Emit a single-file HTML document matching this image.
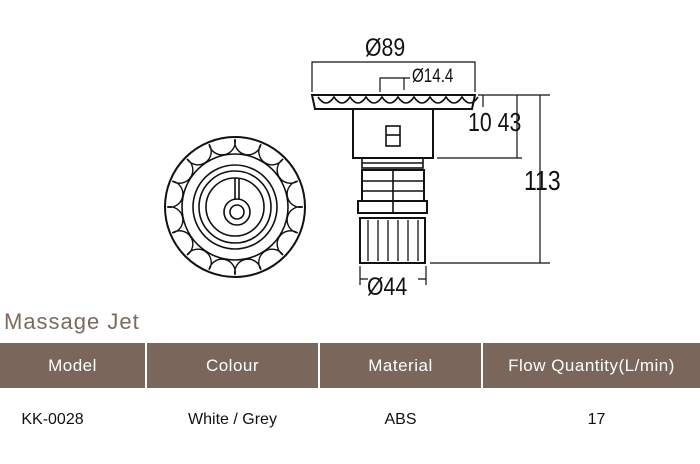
<!DOCTYPE html>
<html><head><style>
body{margin:0;background:#fff;width:700px;height:464px;overflow:hidden;font-family:"Liberation Sans",sans-serif;position:relative}
.t{position:absolute;left:4px;top:309px;font-size:22px;color:#7a6a60;letter-spacing:1px}
.hd{position:absolute;top:343px;height:45px;background:#7a665b;color:#fff;font-size:17px;line-height:45px;text-align:center;letter-spacing:0.5px}
.r{position:absolute;top:411px;font-size:16px;color:#111;text-align:center}
</style></head><body>
<svg width="700" height="300" style="position:absolute;left:0;top:0" fill="none" stroke="#111" stroke-width="1.6">
<circle cx="235" cy="207" r="70" stroke-width="2"/>
<circle cx="235" cy="207" r="53"/>
<g id="sc" stroke-width="1.4"></g>
<circle cx="235" cy="207" r="42"/>
<circle cx="235" cy="207" r="36"/>
<circle cx="235" cy="207" r="29"/>
<circle cx="237" cy="212" r="13"/>
<circle cx="237" cy="212" r="7"/>
<line x1="235" y1="178" x2="235" y2="200"/>
<line x1="239" y1="178" x2="239" y2="200"/>
<path d="M312 95 H475 L472 109 H315 Z" stroke-width="2"/>
<path d="M318 97 q8 12 16 0 q8 12 16 0 q8 12 16 0 q8 12 16 0 q8 12 16 0 q8 12 16 0 q8 12 16 0 q8 12 16 0 q8 12 16 0 q8 12 16 0"/>
<rect x="353" y="109" width="80" height="49" stroke-width="2"/>
<rect x="386" y="126" width="14" height="20"/>
<line x1="386" y1="135" x2="400" y2="135"/>
<rect x="362" y="158" width="61" height="10"/>
<line x1="362" y1="163" x2="423" y2="163"/>
<rect x="362" y="170" width="62" height="31" stroke-width="2"/>
<line x1="362" y1="181" x2="424" y2="181"/>
<line x1="362" y1="191" x2="424" y2="191"/>
<line x1="393" y1="170" x2="393" y2="212"/>
<rect x="358" y="201" width="69" height="12" stroke-width="2"/>
<rect x="360" y="218" width="65" height="45" stroke-width="2"/>
<g stroke-width="1.3">
<line x1="368" y1="220" x2="368" y2="261"/><line x1="378" y1="220" x2="378" y2="261"/>
<line x1="388" y1="220" x2="388" y2="261"/><line x1="398" y1="220" x2="398" y2="261"/>
<line x1="408" y1="220" x2="408" y2="261"/><line x1="418" y1="220" x2="418" y2="261"/>
</g>
<g stroke-width="1.2">
<path d="M312 92 V62 H475 V92"/>
<path d="M380 92 V78 H404 V90 M404 78 H410"/>
<line x1="478" y1="95" x2="550" y2="95"/>
<line x1="437" y1="158" x2="522" y2="158"/>
<line x1="430" y1="263" x2="550" y2="263"/>
<line x1="483" y1="95" x2="483" y2="107"/>
<line x1="517" y1="95" x2="517" y2="158"/>
<line x1="540" y1="95" x2="540" y2="263"/>
<path d="M360 266 V285 M426 266 V285 M360 279 H368 M426 279 H418"/>
</g>
<g fill="#111" stroke="none" font-family="Liberation Sans, sans-serif">
<text x="365" y="56" font-size="25" transform="translate(365 0) scale(0.85 1) translate(-365 0)">Ø89</text>
<text x="412" y="82" font-size="19" transform="translate(412 0) scale(0.8 1) translate(-412 0)">Ø14.4</text>
<text x="468" y="131" font-size="26" transform="translate(468 0) scale(0.82 1) translate(-468 0)">10 43</text>
<text x="524" y="190" font-size="28" transform="translate(524 0) scale(0.82 1) translate(-524 0)">113</text>
<text x="367" y="295" font-size="25" transform="translate(367 0) scale(0.85 1) translate(-367 0)">Ø44</text>
</g>
</svg>
<script>
var g=document.getElementById('sc'),s='',n=16,cx=235,cy=207;
for(var i=0;i<n;i++){var a1=2*Math.PI*i/n,a2=2*Math.PI*(i+1)/n,r=68;
var x1=cx+r*Math.cos(a1),y1=cy+r*Math.sin(a1),x2=cx+r*Math.cos(a2),y2=cy+r*Math.sin(a2);
s+='M'+x1.toFixed(1)+' '+y1.toFixed(1)+' A13 13 0 0 0 '+x2.toFixed(1)+' '+y2.toFixed(1)+' ';}
var p=document.createElementNS('http://www.w3.org/2000/svg','path');p.setAttribute('d',s);g.appendChild(p);
</script>
<div class="t">Massage Jet</div>
<div class="hd" style="left:0;width:145px">Model</div>
<div class="hd" style="left:147px;width:171px">Colour</div>
<div class="hd" style="left:320px;width:161px">Material</div>
<div class="hd" style="left:483px;width:217px">Flow Quantity(L/min)</div>
<div class="r" style="left:0;width:105px">KK-0028</div>
<div class="r" style="left:147px;width:171px">White / Grey</div>
<div class="r" style="left:320px;width:161px">ABS</div>
<div class="r" style="left:483px;width:227px">17</div>
</body></html>
